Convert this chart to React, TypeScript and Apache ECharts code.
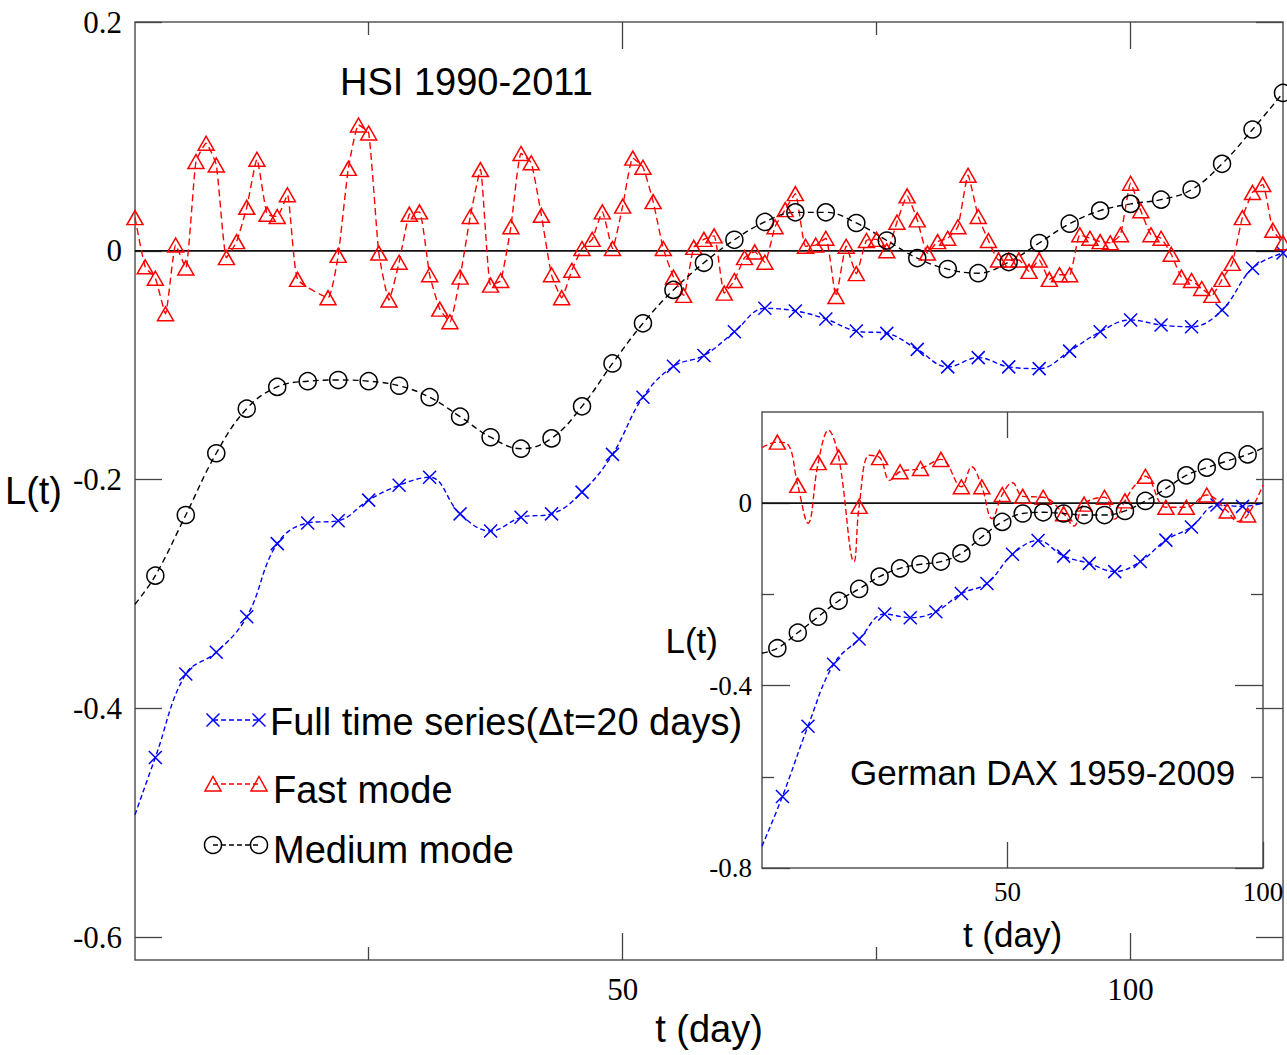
import React, { useEffect, useRef } from "react";
import * as echarts from "echarts";

// ---------- Main panel: HSI 1990-2011 ----------
const mainFull: [number, number][] = [
  [4, -0.443], [7, -0.370], [10, -0.351], [13, -0.320], [16, -0.256], [19, -0.238],
  [22, -0.236], [25, -0.218], [28, -0.205], [31, -0.198], [34, -0.230], [37, -0.245],
  [40, -0.233], [43, -0.230], [46, -0.211], [49, -0.178], [52, -0.128], [55, -0.101],
  [58, -0.0915], [61, -0.0708], [64, -0.0503], [67, -0.0526], [70, -0.0596], [73, -0.0702],
  [76, -0.0722], [79, -0.0862], [82, -0.1015], [85, -0.0934], [88, -0.1015], [91, -0.103],
  [94, -0.0877], [97, -0.0708], [100, -0.0605], [103, -0.0649], [106, -0.0664], [109, -0.0518],
  [112, -0.0152], [115, -0.002],
];
const mainFullLineOnly: [number, number][] = [[2, -0.493]];

const mainFast: [number, number][] = [
  [2, 0.029], [3, -0.014], [4, -0.024], [5, -0.055], [6, 0.005], [7, -0.015], [8, 0.078],
  [9, 0.094], [10, 0.075], [11, -0.006], [12, 0.008], [13, 0.038], [14, 0.080], [15, 0.032],
  [16, 0.030], [17, 0.049], [18, -0.025], [21, -0.041], [22, -0.004], [23, 0.072], [24, 0.110],
  [25, 0.103], [26, -0.002], [27, -0.043], [28, -0.010], [29, 0.032], [30, 0.034], [31, -0.021],
  [32, -0.051], [33, -0.062], [34, -0.023], [35, 0.030], [36, 0.071], [37, -0.030], [38, -0.026],
  [39, 0.021], [40, 0.085], [41, 0.077], [42, 0.031], [43, -0.021], [44, -0.041], [45, -0.017],
  [46, 0.002], [47, 0.010], [48, 0.034], [49, 0.002], [50, 0.039], [51, 0.081], [52, 0.073],
  [53, 0.043], [54, 0.002], [55, -0.023], [56, -0.039], [57, 0.003], [58, 0.010], [59, 0.013],
  [60, -0.037], [61, -0.026], [62, -0.006], [63, -0.001], [64, -0.010], [65, 0.021], [66, 0.036],
  [67, 0.050], [68, 0.004], [69, 0.005], [70, 0.011], [71, -0.040], [72, 0.004], [73, -0.020],
  [74, 0.009], [75, 0.010], [76, 0.000], [77, 0.025], [78, 0.048], [79, 0.027], [80, -0.002],
  [81, 0.008], [82, 0.011], [83, 0.021], [84, 0.066], [85, 0.030], [86, 0.009], [87, -0.008],
  [88, -0.008], [89, -0.008], [90, -0.018], [91, -0.008], [92, -0.025], [93, -0.021], [94, -0.021],
  [95, 0.014], [96, 0.011], [97, 0.008], [98, 0.007], [99, 0.014], [100, 0.059], [101, 0.035],
  [102, 0.014], [103, 0.011], [104, -0.003], [105, -0.023], [106, -0.026], [107, -0.033],
  [108, -0.039], [109, -0.025], [110, -0.011], [111, 0.029], [112, 0.051], [113, 0.058],
  [114, 0.018], [115, 0.007],
];

const mainMedium: [number, number][] = [
  [4, -0.284], [7, -0.231], [10, -0.177], [13, -0.138], [16, -0.119], [19, -0.114],
  [22, -0.113], [25, -0.114], [28, -0.118], [31, -0.128], [34, -0.145], [37, -0.163],
  [40, -0.173], [43, -0.164], [46, -0.136], [49, -0.0985], [52, -0.0634], [55, -0.0342],
  [58, -0.0105], [61, 0.0096], [64, 0.0252], [67, 0.0336], [70, 0.0336], [73, 0.0243],
  [76, 0.009], [79, -0.0064], [82, -0.016], [85, -0.0196], [88, -0.0099], [91, 0.0068],
  [94, 0.0237], [97, 0.0351], [100, 0.041], [103, 0.0447], [106, 0.0535], [109, 0.076],
  [112, 0.106], [115, 0.138],
];
const mainMediumLineOnly: [number, number][] = [[2, -0.309]];

// ---------- Inset: German DAX 1959-2009 ----------
const insetFull: [number, number][] = [
  [6, -0.643], [11, -0.489], [16, -0.353], [21, -0.298], [26, -0.243], [31, -0.251],
  [36, -0.238], [41, -0.198], [46, -0.176], [51, -0.112], [56, -0.082], [61, -0.116],
  [66, -0.132], [71, -0.150], [76, -0.128], [81, -0.081], [86, -0.052], [91, -0.004], [96, -0.007],
];
const insetFullLineOnly: [number, number][] = [[2, -0.752], [100, 0.0]];

const insetFast: [number, number][] = [
  [5, 0.134], [9, 0.039], [13, 0.089], [17, 0.101], [21, -0.007], [25, 0.100], [29, 0.069],
  [33, 0.076], [37, 0.096], [41, 0.036], [45, 0.036], [49, 0.019], [53, 0.015], [57, 0.013],
  [61, -0.023], [65, -0.002], [69, 0.013], [73, 0.005], [77, 0.059], [81, -0.009], [85, -0.009],
  [89, 0.018], [93, -0.017], [97, -0.026],
];
const insetFastLineOnly: [number, number][] = [
  [2, 0.122], [7, 0.13], [11, -0.044], [15, 0.16], [20, -0.128], [23, 0.105], [27, 0.05],
  [43, 0.08], [47, -0.034], [51, 0.045], [63, -0.05], [71, -0.035], [75, 0.04], [95, -0.04],
  [100, 0.04],
];

const insetMedium: [number, number][] = [
  [5, -0.318], [9, -0.284], [13, -0.249], [17, -0.214], [21, -0.188], [25, -0.161], [29, -0.143],
  [33, -0.134], [37, -0.128], [41, -0.110], [45, -0.074], [49, -0.041], [53, -0.0226], [57, -0.020],
  [61, -0.0226], [65, -0.026], [69, -0.026], [73, -0.017], [77, 0.005], [81, 0.032], [85, 0.061],
  [89, 0.078], [93, 0.0926], [97, 0.107],
];
const insetMediumLineOnly: [number, number][] = [[2, -0.329], [100, 0.121]];

// ---------- Axis ticks / labels ----------
const mainXMajor = [50, 100];
const mainXMinor = [25, 75];
const mainYMajor = [-0.6, -0.4, -0.2, 0, 0.2];
const insetXMajor = [50, 100];
const insetYMajor = [-0.8, -0.4, 0];
const insetYMinor = [-0.6, -0.2];

const legendLabels = ["Full time series(\u0394t=20 days)", "Fast mode", "Medium mode"];

const BLUE = "#0000ff";
const RED = "#ff0000";
const BLACK = "#000000";
const SERIF = "'Liberation Serif', 'Times New Roman', serif";
const SANS = "'Liberation Sans', Arial, sans-serif";
const CROSS = "path://M0,0L10,10M10,0L0,10";

function buildData(markers: [number, number][], lineOnly: [number, number][]) {
  const items: any[] = [];
  markers.forEach((p) => items.push({ value: p }));
  lineOnly.forEach((p) => items.push({ value: p, symbol: "none" }));
  items.sort((a, b) => a.value[0] - b.value[0]);
  return items;
}

function tickAxis(extra: any) {
  return {
    type: "value",
    axisLine: { show: false, onZero: false },
    splitLine: { show: false },
    axisLabel: { show: false },
    axisPointer: { show: false },
    nameMoveOverlap: false,
    ...extra,
  };
}

export default function App() {
  const ref = useRef<HTMLDivElement>(null);
  useEffect(() => {
    if (!ref.current) return;
    const chart = echarts.init(ref.current, null, { renderer: "svg" });
    const tickColor = "#444";

    const mainX = (customValues: number[], len: number, position: string, extra: any = {}) =>
      tickAxis({
        gridIndex: 0, min: 2, max: 115, position,
        axisTick: { show: true, inside: true, length: len, customValues, lineStyle: { color: tickColor, width: 1.3 } },
        ...extra,
      });
    const mainY = (position: string, extra: any = {}) =>
      tickAxis({
        gridIndex: 0, min: -0.62, max: 0.2, position,
        axisTick: { show: true, inside: true, length: 27, customValues: mainYMajor, lineStyle: { color: tickColor, width: 1.3 } },
        ...extra,
      });
    const insetX = (customValues: number[], len: number, position: string, extra: any = {}) =>
      tickAxis({
        gridIndex: 1, min: 2, max: 100, position,
        axisTick: { show: true, inside: true, length: len, customValues, lineStyle: { color: tickColor, width: 1.3 } },
        ...extra,
      });
    const insetY = (customValues: number[], len: number, position: string, extra: any = {}) =>
      tickAxis({
        gridIndex: 1, min: -0.8, max: 0.2, position,
        axisTick: { show: true, inside: true, length: len, customValues, lineStyle: { color: tickColor, width: 1.3 } },
        ...extra,
      });

    const lineSeries = (
      name: string, xi: number, yi: number, data: any[], color: string, symbol: string,
      symbolSize: any, dash: number[], smooth: number
    ) => ({
      name, type: "line", xAxisIndex: xi, yAxisIndex: yi, data, smooth,
      symbol, symbolSize, showAllSymbol: true, silent: true, z: 3,
      lineStyle: { color, width: 1.4, type: dash },
      itemStyle: { color: "transparent", borderColor: color, borderWidth: 1.5 },
      emphasis: { disabled: true },
    });

    const zeroSeries = (xi: number, yi: number, x0: number, x1: number) => ({
      type: "line", xAxisIndex: xi, yAxisIndex: yi, data: [[x0, 0], [x1, 0]],
      symbol: "none", silent: true, z: 2,
      lineStyle: { color: "#111", width: 1.8 },
    });

    // Legend drawn as graphics: symbol - dashed line - symbol
    const legendRows = [
      { y: 720, color: BLUE, kind: "cross", textY: 722 },
      { y: 784, color: RED, kind: "tri", textY: 790 },
      { y: 845, color: BLACK, kind: "circ", textY: 850 },
    ];
    const lx0 = 213, lx1 = 259;
    const legendGraphics: any[] = [];
    legendRows.forEach((r, i) => {
      legendGraphics.push({
        type: "line", shape: { x1: lx0, y1: r.y, x2: lx1, y2: r.y },
        style: { stroke: r.color, lineWidth: 1.3, lineDash: [5, 3] },
      });
      [lx0, lx1].forEach((cx) => {
        if (r.kind === "cross") {
          legendGraphics.push({ type: "line", shape: { x1: cx - 6.5, y1: r.y - 6.5, x2: cx + 6.5, y2: r.y + 6.5 }, style: { stroke: r.color, lineWidth: 1.5 } });
          legendGraphics.push({ type: "line", shape: { x1: cx - 6.5, y1: r.y + 6.5, x2: cx + 6.5, y2: r.y - 6.5 }, style: { stroke: r.color, lineWidth: 1.5 } });
        } else if (r.kind === "tri") {
          legendGraphics.push({
            type: "polygon",
            shape: { points: [[cx, r.y - 7.5], [cx + 8, r.y + 7], [cx - 8, r.y + 7]] },
            style: { fill: "none", stroke: r.color, lineWidth: 1.5 },
          });
        } else {
          legendGraphics.push({ type: "circle", shape: { cx, cy: r.y, r: 8.5 }, style: { fill: "none", stroke: r.color, lineWidth: 1.5 } });
        }
      });
      legendGraphics.push({
        type: "text", x: 270 + (i === 0 ? 0 : 3), y: r.textY,
        style: { text: legendLabels[i], fontFamily: SANS, fontSize: 38, fill: "#000", verticalAlign: "middle", align: "left" },
      });
    });

    const option: any = {
      animation: false,
      backgroundColor: "#fff",
      grid: [
        { left: 135, top: 22, width: 1148, height: 938, show: true, borderColor: "#555", borderWidth: 1.5, backgroundColor: "transparent" },
        { left: 762, top: 412, width: 501, height: 456, show: true, borderColor: "#555", borderWidth: 1.5, backgroundColor: "#fff" },
      ],
      xAxis: [
        mainX(mainXMajor, 27, "bottom", {
          axisLabel: { show: true, customValues: mainXMajor, fontFamily: SERIF, fontSize: 31, color: "#000", margin: 14 },
          name: "t (day)", nameLocation: "middle", nameGap: 50,
          nameTextStyle: { fontFamily: SANS, fontSize: 38, color: "#000" },
        }),
        mainX(mainXMinor, 13, "bottom"),
        mainX(mainXMajor, 27, "top"),
        mainX(mainXMinor, 13, "top"),
        insetX(insetXMajor, 26, "bottom", {
          axisLabel: { show: true, customValues: insetXMajor, fontFamily: SERIF, fontSize: 27, color: "#000", margin: 10 },
          name: "t (day)", nameLocation: "middle", nameGap: 49,
          nameTextStyle: { fontFamily: SANS, fontSize: 35, color: "#000" },
        }),
        insetX([50], 26, "top"),
      ],
      yAxis: [
        mainY("left", {
          axisLabel: { show: true, customValues: mainYMajor, fontFamily: SERIF, fontSize: 31, color: "#000", margin: 13 },
          name: "L(t)", nameLocation: "middle", nameRotate: 0, nameGap: 73,
          nameTextStyle: { fontFamily: SANS, fontSize: 38, color: "#000" },
        }),
        mainY("right"),
        insetY(insetYMajor, 28, "left", {
          axisLabel: { show: true, customValues: insetYMajor, fontFamily: SERIF, fontSize: 27, color: "#000", margin: 10 },
          name: "L(t)", nameLocation: "middle", nameRotate: 0, nameGap: 44,
          nameTextStyle: { fontFamily: SANS, fontSize: 35, color: "#000" },
        }),
        insetY(insetYMinor, 12, "left"),
        insetY(insetYMajor, 28, "right"),
        insetY(insetYMinor, 12, "right"),
      ],
      series: [
        zeroSeries(0, 0, 2, 115),
        lineSeries("Full time series", 0, 0, buildData(mainFull, mainFullLineOnly), BLUE, CROSS, 13, [5, 3], 0.4),
        lineSeries("Fast mode", 0, 0, buildData(mainFast, []), RED, "triangle", [16, 14], [7, 4], 0.15),
        lineSeries("Medium mode", 0, 0, buildData(mainMedium, mainMediumLineOnly), BLACK, "circle", 17, [6, 4], 0.4),
        zeroSeries(4, 2, 2, 100),
        lineSeries("DAX full", 4, 2, buildData(insetFull, insetFullLineOnly), BLUE, CROSS, 13, [5, 3], 0.4),
        lineSeries("DAX fast", 4, 2, buildData(insetFast, insetFastLineOnly), RED, "triangle", [16, 14], [6, 3], 0.4),
        lineSeries("DAX medium", 4, 2, buildData(insetMedium, insetMediumLineOnly), BLACK, "circle", 17, [6, 4], 0.4),
      ],
      graphic: {
        elements: [
          {
            type: "text", x: 340, y: 82,
            style: { text: "HSI 1990-2011", fontFamily: SANS, fontSize: 38, fill: "#000", verticalAlign: "middle", align: "left" },
          },
          {
            type: "text", x: 850, y: 772,
            style: { text: "German DAX 1959-2009", fontFamily: SANS, fontSize: 35, fill: "#000", verticalAlign: "middle", align: "left" },
          },
          ...legendGraphics,
        ],
      },
    };
    chart.setOption(option);
    return () => chart.dispose();
  }, []);

  return (
    <div
      ref={ref}
      style={{ position: "fixed", left: 0, top: 0, width: 1287, height: 1055, background: "#fff" }}
    />
  );
}
